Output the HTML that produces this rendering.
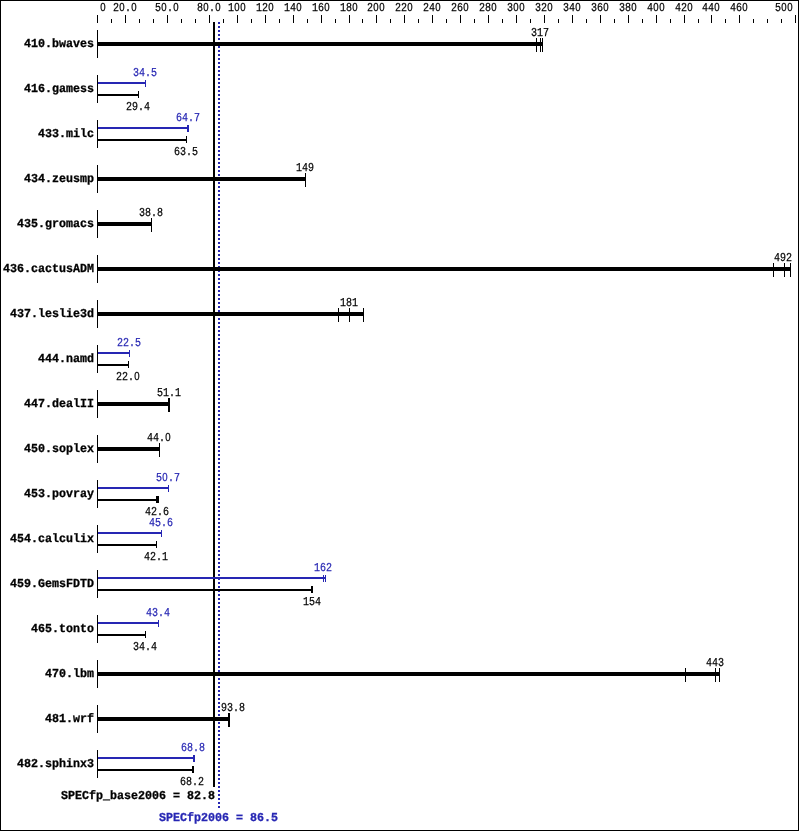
<!DOCTYPE html>
<html><head><meta charset="utf-8"><title>SPECfp2006</title>
<style>
html,body{margin:0;padding:0;background:#fff;}
body{width:799px;height:831px;position:relative;overflow:hidden;}
#f{position:absolute;left:0;top:0;width:797px;height:829px;border:1px solid #000;}
#c{position:absolute;left:0;top:0;width:799px;height:831px;will-change:transform;}
.r{position:absolute;}
.t{position:absolute;white-space:pre;transform-origin:0 0;text-rendering:geometricPrecision;}
.n{font-family:"Liberation Mono",monospace;font-size:12.15px;line-height:12px;transform:scaleX(0.8228);-webkit-text-stroke:0.25px currentColor;}
.z{display:inline-block;width:7.2912px;text-align:center;font-family:"Liberation Sans",sans-serif;font-size:11.65px;line-height:12px;vertical-align:baseline;}
.b{font-family:"Liberation Mono",monospace;font-weight:bold;font-size:12.15px;line-height:12px;transform:scaleX(0.96);-webkit-text-stroke:0.3px currentColor;}
</style></head><body>
<div id="f"></div>
<div id="c">
<div class="r" style="left:97px;top:15px;width:1px;height:8px;background:#000"></div>
<div class="r" style="left:111px;top:19px;width:1px;height:4px;background:#000"></div>
<div class="r" style="left:125px;top:15px;width:1px;height:8px;background:#000"></div>
<div class="r" style="left:139px;top:19px;width:1px;height:4px;background:#000"></div>
<div class="r" style="left:153px;top:19px;width:1px;height:4px;background:#000"></div>
<div class="r" style="left:167px;top:15px;width:1px;height:8px;background:#000"></div>
<div class="r" style="left:181px;top:19px;width:1px;height:4px;background:#000"></div>
<div class="r" style="left:195px;top:19px;width:1px;height:4px;background:#000"></div>
<div class="r" style="left:209px;top:15px;width:1px;height:8px;background:#000"></div>
<div class="r" style="left:223px;top:19px;width:1px;height:4px;background:#000"></div>
<div class="r" style="left:237px;top:15px;width:1px;height:8px;background:#000"></div>
<div class="r" style="left:251px;top:19px;width:1px;height:4px;background:#000"></div>
<div class="r" style="left:265px;top:15px;width:1px;height:8px;background:#000"></div>
<div class="r" style="left:279px;top:19px;width:1px;height:4px;background:#000"></div>
<div class="r" style="left:293px;top:15px;width:1px;height:8px;background:#000"></div>
<div class="r" style="left:307px;top:19px;width:1px;height:4px;background:#000"></div>
<div class="r" style="left:321px;top:15px;width:1px;height:8px;background:#000"></div>
<div class="r" style="left:335px;top:19px;width:1px;height:4px;background:#000"></div>
<div class="r" style="left:349px;top:15px;width:1px;height:8px;background:#000"></div>
<div class="r" style="left:362px;top:19px;width:1px;height:4px;background:#000"></div>
<div class="r" style="left:376px;top:15px;width:1px;height:8px;background:#000"></div>
<div class="r" style="left:390px;top:19px;width:1px;height:4px;background:#000"></div>
<div class="r" style="left:404px;top:15px;width:1px;height:8px;background:#000"></div>
<div class="r" style="left:418px;top:19px;width:1px;height:4px;background:#000"></div>
<div class="r" style="left:432px;top:15px;width:1px;height:8px;background:#000"></div>
<div class="r" style="left:446px;top:19px;width:1px;height:4px;background:#000"></div>
<div class="r" style="left:460px;top:15px;width:1px;height:8px;background:#000"></div>
<div class="r" style="left:474px;top:19px;width:1px;height:4px;background:#000"></div>
<div class="r" style="left:488px;top:15px;width:1px;height:8px;background:#000"></div>
<div class="r" style="left:502px;top:19px;width:1px;height:4px;background:#000"></div>
<div class="r" style="left:516px;top:15px;width:1px;height:8px;background:#000"></div>
<div class="r" style="left:530px;top:19px;width:1px;height:4px;background:#000"></div>
<div class="r" style="left:544px;top:15px;width:1px;height:8px;background:#000"></div>
<div class="r" style="left:558px;top:19px;width:1px;height:4px;background:#000"></div>
<div class="r" style="left:572px;top:15px;width:1px;height:8px;background:#000"></div>
<div class="r" style="left:586px;top:19px;width:1px;height:4px;background:#000"></div>
<div class="r" style="left:600px;top:15px;width:1px;height:8px;background:#000"></div>
<div class="r" style="left:614px;top:19px;width:1px;height:4px;background:#000"></div>
<div class="r" style="left:628px;top:15px;width:1px;height:8px;background:#000"></div>
<div class="r" style="left:642px;top:19px;width:1px;height:4px;background:#000"></div>
<div class="r" style="left:656px;top:15px;width:1px;height:8px;background:#000"></div>
<div class="r" style="left:670px;top:19px;width:1px;height:4px;background:#000"></div>
<div class="r" style="left:684px;top:15px;width:1px;height:8px;background:#000"></div>
<div class="r" style="left:698px;top:19px;width:1px;height:4px;background:#000"></div>
<div class="r" style="left:711px;top:15px;width:1px;height:8px;background:#000"></div>
<div class="r" style="left:725px;top:19px;width:1px;height:4px;background:#000"></div>
<div class="r" style="left:739px;top:15px;width:1px;height:8px;background:#000"></div>
<div class="r" style="left:753px;top:19px;width:1px;height:4px;background:#000"></div>
<div class="r" style="left:767px;top:19px;width:1px;height:4px;background:#000"></div>
<div class="r" style="left:781px;top:19px;width:1px;height:4px;background:#000"></div>
<div class="r" style="left:795px;top:15px;width:1px;height:8px;background:#000"></div>
<div class="t n" style="left:100.00px;top:2.00px;color:#000"><span class="z">0</span></div>
<div class="t n" style="left:113.00px;top:2.00px;color:#000">2<span class="z">0</span>.<span class="z">0</span></div>
<div class="t n" style="left:155.00px;top:2.00px;color:#000">5<span class="z">0</span>.<span class="z">0</span></div>
<div class="t n" style="left:197.00px;top:2.00px;color:#000">8<span class="z">0</span>.<span class="z">0</span></div>
<div class="t n" style="left:228.00px;top:2.00px;color:#000">1<span class="z">0</span><span class="z">0</span></div>
<div class="t n" style="left:256.00px;top:2.00px;color:#000">12<span class="z">0</span></div>
<div class="t n" style="left:284.00px;top:2.00px;color:#000">14<span class="z">0</span></div>
<div class="t n" style="left:312.00px;top:2.00px;color:#000">16<span class="z">0</span></div>
<div class="t n" style="left:340.00px;top:2.00px;color:#000">18<span class="z">0</span></div>
<div class="t n" style="left:367.00px;top:2.00px;color:#000">2<span class="z">0</span><span class="z">0</span></div>
<div class="t n" style="left:395.00px;top:2.00px;color:#000">22<span class="z">0</span></div>
<div class="t n" style="left:423.00px;top:2.00px;color:#000">24<span class="z">0</span></div>
<div class="t n" style="left:451.00px;top:2.00px;color:#000">26<span class="z">0</span></div>
<div class="t n" style="left:479.00px;top:2.00px;color:#000">28<span class="z">0</span></div>
<div class="t n" style="left:507.00px;top:2.00px;color:#000">3<span class="z">0</span><span class="z">0</span></div>
<div class="t n" style="left:535.00px;top:2.00px;color:#000">32<span class="z">0</span></div>
<div class="t n" style="left:563.00px;top:2.00px;color:#000">34<span class="z">0</span></div>
<div class="t n" style="left:591.00px;top:2.00px;color:#000">36<span class="z">0</span></div>
<div class="t n" style="left:619.00px;top:2.00px;color:#000">38<span class="z">0</span></div>
<div class="t n" style="left:647.00px;top:2.00px;color:#000">4<span class="z">0</span><span class="z">0</span></div>
<div class="t n" style="left:675.00px;top:2.00px;color:#000">42<span class="z">0</span></div>
<div class="t n" style="left:702.00px;top:2.00px;color:#000">44<span class="z">0</span></div>
<div class="t n" style="left:730.00px;top:2.00px;color:#000">46<span class="z">0</span></div>
<div class="t n" style="left:775.00px;top:2.00px;color:#000">5<span class="z">0</span><span class="z">0</span></div>
<div class="r" style="left:213px;top:22px;width:2px;height:765px;background:#000"></div>
<div class="r" style="left:218px;top:22px;width:2px;height:786px;background:repeating-linear-gradient(to bottom,#2626b3 0,#2626b3 2px,transparent 2px,transparent 4px)"></div>
<div class="r" style="left:97px;top:30px;width:1px;height:28px;background:#000"></div>
<div class="t b" style="left:24.00px;top:38.00px;color:#000">410.bwaves</div>
<div class="r" style="left:98px;top:42px;width:445px;height:4px;background:#000"></div>
<div class="r" style="left:536px;top:38px;width:1px;height:14px;background:#000"></div>
<div class="r" style="left:540px;top:38px;width:1px;height:14px;background:#000"></div>
<div class="r" style="left:542px;top:38px;width:1px;height:14px;background:#000"></div>
<div class="t n" style="left:531.00px;top:27.00px;color:#000">317</div>
<div class="r" style="left:97px;top:75px;width:1px;height:28px;background:#000"></div>
<div class="t b" style="left:24.00px;top:83.00px;color:#000">416.gamess</div>
<div class="r" style="left:98px;top:82px;width:48px;height:2px;background:#2626b3"></div>
<div class="r" style="left:145px;top:80px;width:1px;height:7px;background:#2626b3"></div>
<div class="r" style="left:98px;top:94px;width:41px;height:2px;background:#000"></div>
<div class="r" style="left:138px;top:91px;width:1px;height:7px;background:#000"></div>
<div class="t n" style="left:133.00px;top:67.00px;color:#2626b3">34.5</div>
<div class="t n" style="left:126.00px;top:101.00px;color:#000">29.4</div>
<div class="r" style="left:97px;top:120px;width:1px;height:28px;background:#000"></div>
<div class="t b" style="left:38.00px;top:128.00px;color:#000">433.milc</div>
<div class="r" style="left:98px;top:127px;width:91px;height:2px;background:#2626b3"></div>
<div class="r" style="left:187px;top:125px;width:1px;height:7px;background:#2626b3"></div>
<div class="r" style="left:188px;top:125px;width:1px;height:7px;background:#2626b3"></div>
<div class="r" style="left:98px;top:139px;width:89px;height:2px;background:#000"></div>
<div class="r" style="left:186px;top:136px;width:1px;height:7px;background:#000"></div>
<div class="t n" style="left:176.00px;top:112.00px;color:#2626b3">64.7</div>
<div class="t n" style="left:174.00px;top:146.00px;color:#000">63.5</div>
<div class="r" style="left:97px;top:165px;width:1px;height:28px;background:#000"></div>
<div class="t b" style="left:24.00px;top:173.00px;color:#000">434.zeusmp</div>
<div class="r" style="left:98px;top:177px;width:208px;height:4px;background:#000"></div>
<div class="r" style="left:305px;top:173px;width:1px;height:14px;background:#000"></div>
<div class="t n" style="left:296.00px;top:162.00px;color:#000">149</div>
<div class="r" style="left:97px;top:210px;width:1px;height:28px;background:#000"></div>
<div class="t b" style="left:17.00px;top:218.00px;color:#000">435.gromacs</div>
<div class="r" style="left:98px;top:222px;width:54px;height:4px;background:#000"></div>
<div class="r" style="left:151px;top:218px;width:1px;height:14px;background:#000"></div>
<div class="t n" style="left:139.00px;top:207.00px;color:#000">38.8</div>
<div class="r" style="left:97px;top:255px;width:1px;height:28px;background:#000"></div>
<div class="t b" style="left:3.00px;top:263.00px;color:#000">436.cactusADM</div>
<div class="r" style="left:98px;top:267px;width:693px;height:4px;background:#000"></div>
<div class="r" style="left:773px;top:263px;width:1px;height:14px;background:#000"></div>
<div class="r" style="left:784px;top:263px;width:1px;height:14px;background:#000"></div>
<div class="r" style="left:790px;top:263px;width:1px;height:14px;background:#000"></div>
<div class="t n" style="left:774.00px;top:252.00px;color:#000">492</div>
<div class="r" style="left:97px;top:300px;width:1px;height:28px;background:#000"></div>
<div class="t b" style="left:10.00px;top:308.00px;color:#000">437.leslie3d</div>
<div class="r" style="left:98px;top:312px;width:266px;height:4px;background:#000"></div>
<div class="r" style="left:338px;top:308px;width:1px;height:14px;background:#000"></div>
<div class="r" style="left:349px;top:308px;width:1px;height:14px;background:#000"></div>
<div class="r" style="left:363px;top:308px;width:1px;height:14px;background:#000"></div>
<div class="t n" style="left:340.00px;top:297.00px;color:#000">181</div>
<div class="r" style="left:97px;top:345px;width:1px;height:28px;background:#000"></div>
<div class="t b" style="left:38.00px;top:353.00px;color:#000">444.namd</div>
<div class="r" style="left:98px;top:352px;width:32px;height:2px;background:#2626b3"></div>
<div class="r" style="left:129px;top:350px;width:1px;height:7px;background:#2626b3"></div>
<div class="r" style="left:98px;top:364px;width:31px;height:2px;background:#000"></div>
<div class="r" style="left:128px;top:361px;width:1px;height:7px;background:#000"></div>
<div class="t n" style="left:117.00px;top:337.00px;color:#2626b3">22.5</div>
<div class="t n" style="left:116.00px;top:371.00px;color:#000">22.<span class="z">0</span></div>
<div class="r" style="left:97px;top:390px;width:1px;height:28px;background:#000"></div>
<div class="t b" style="left:24.00px;top:398.00px;color:#000">447.dealII</div>
<div class="r" style="left:98px;top:402px;width:72px;height:4px;background:#000"></div>
<div class="r" style="left:168px;top:398px;width:1px;height:14px;background:#000"></div>
<div class="r" style="left:169px;top:398px;width:1px;height:14px;background:#000"></div>
<div class="t n" style="left:157.00px;top:387.00px;color:#000">51.1</div>
<div class="r" style="left:97px;top:435px;width:1px;height:28px;background:#000"></div>
<div class="t b" style="left:24.00px;top:443.00px;color:#000">450.soplex</div>
<div class="r" style="left:98px;top:447px;width:62px;height:4px;background:#000"></div>
<div class="r" style="left:159px;top:443px;width:1px;height:14px;background:#000"></div>
<div class="t n" style="left:147.00px;top:432.00px;color:#000">44.<span class="z">0</span></div>
<div class="r" style="left:97px;top:480px;width:1px;height:28px;background:#000"></div>
<div class="t b" style="left:24.00px;top:488.00px;color:#000">453.povray</div>
<div class="r" style="left:98px;top:487px;width:71px;height:2px;background:#2626b3"></div>
<div class="r" style="left:168px;top:485px;width:1px;height:7px;background:#2626b3"></div>
<div class="r" style="left:98px;top:499px;width:61px;height:2px;background:#000"></div>
<div class="r" style="left:156px;top:496px;width:1px;height:7px;background:#000"></div>
<div class="r" style="left:157px;top:496px;width:1px;height:7px;background:#000"></div>
<div class="r" style="left:158px;top:496px;width:1px;height:7px;background:#000"></div>
<div class="t n" style="left:156.00px;top:472.00px;color:#2626b3">5<span class="z">0</span>.7</div>
<div class="t n" style="left:145.00px;top:506.00px;color:#000">42.6</div>
<div class="r" style="left:97px;top:525px;width:1px;height:28px;background:#000"></div>
<div class="t b" style="left:10.00px;top:533.00px;color:#000">454.calculix</div>
<div class="r" style="left:98px;top:532px;width:64px;height:2px;background:#2626b3"></div>
<div class="r" style="left:161px;top:530px;width:1px;height:7px;background:#2626b3"></div>
<div class="r" style="left:98px;top:544px;width:59px;height:2px;background:#000"></div>
<div class="r" style="left:156px;top:541px;width:1px;height:7px;background:#000"></div>
<div class="t n" style="left:149.00px;top:517.00px;color:#2626b3">45.6</div>
<div class="t n" style="left:144.00px;top:551.00px;color:#000">42.1</div>
<div class="r" style="left:97px;top:570px;width:1px;height:28px;background:#000"></div>
<div class="t b" style="left:10.00px;top:578.00px;color:#000">459.GemsFDTD</div>
<div class="r" style="left:98px;top:577px;width:228px;height:2px;background:#2626b3"></div>
<div class="r" style="left:323px;top:575px;width:1px;height:7px;background:#2626b3"></div>
<div class="r" style="left:325px;top:575px;width:1px;height:7px;background:#2626b3"></div>
<div class="r" style="left:98px;top:589px;width:215px;height:2px;background:#000"></div>
<div class="r" style="left:311px;top:586px;width:1px;height:7px;background:#000"></div>
<div class="r" style="left:312px;top:586px;width:1px;height:7px;background:#000"></div>
<div class="t n" style="left:314.00px;top:562.00px;color:#2626b3">162</div>
<div class="t n" style="left:303.00px;top:596.00px;color:#000">154</div>
<div class="r" style="left:97px;top:615px;width:1px;height:28px;background:#000"></div>
<div class="t b" style="left:31.00px;top:623.00px;color:#000">465.tonto</div>
<div class="r" style="left:98px;top:622px;width:61px;height:2px;background:#2626b3"></div>
<div class="r" style="left:158px;top:620px;width:1px;height:7px;background:#2626b3"></div>
<div class="r" style="left:98px;top:634px;width:48px;height:2px;background:#000"></div>
<div class="r" style="left:145px;top:631px;width:1px;height:7px;background:#000"></div>
<div class="t n" style="left:146.00px;top:607.00px;color:#2626b3">43.4</div>
<div class="t n" style="left:133.00px;top:641.00px;color:#000">34.4</div>
<div class="r" style="left:97px;top:660px;width:1px;height:28px;background:#000"></div>
<div class="t b" style="left:45.00px;top:668.00px;color:#000">470.lbm</div>
<div class="r" style="left:98px;top:672px;width:622px;height:4px;background:#000"></div>
<div class="r" style="left:685px;top:668px;width:1px;height:14px;background:#000"></div>
<div class="r" style="left:715px;top:668px;width:1px;height:14px;background:#000"></div>
<div class="r" style="left:719px;top:668px;width:1px;height:14px;background:#000"></div>
<div class="t n" style="left:706.00px;top:657.00px;color:#000">443</div>
<div class="r" style="left:97px;top:705px;width:1px;height:28px;background:#000"></div>
<div class="t b" style="left:45.00px;top:713.00px;color:#000">481.wrf</div>
<div class="r" style="left:98px;top:717px;width:132px;height:4px;background:#000"></div>
<div class="r" style="left:228px;top:713px;width:1px;height:14px;background:#000"></div>
<div class="r" style="left:229px;top:713px;width:1px;height:14px;background:#000"></div>
<div class="t n" style="left:221.00px;top:702.00px;color:#000">93.8</div>
<div class="r" style="left:97px;top:750px;width:1px;height:28px;background:#000"></div>
<div class="t b" style="left:17.00px;top:758.00px;color:#000">482.sphinx3</div>
<div class="r" style="left:98px;top:757px;width:97px;height:2px;background:#2626b3"></div>
<div class="r" style="left:193px;top:755px;width:1px;height:7px;background:#2626b3"></div>
<div class="r" style="left:194px;top:755px;width:1px;height:7px;background:#2626b3"></div>
<div class="r" style="left:98px;top:769px;width:96px;height:2px;background:#000"></div>
<div class="r" style="left:192px;top:766px;width:1px;height:7px;background:#000"></div>
<div class="r" style="left:193px;top:766px;width:1px;height:7px;background:#000"></div>
<div class="t n" style="left:181.00px;top:742.00px;color:#2626b3">68.8</div>
<div class="t n" style="left:180.00px;top:776.00px;color:#000">68.2</div>
<div class="t b" style="left:61.00px;top:790.00px;color:#000">SPECfp_base2006 = 82.8</div>
<div class="t b" style="left:159.00px;top:812.00px;color:#2626b3">SPECfp2006 = 86.5</div>
</div>
</body></html>
